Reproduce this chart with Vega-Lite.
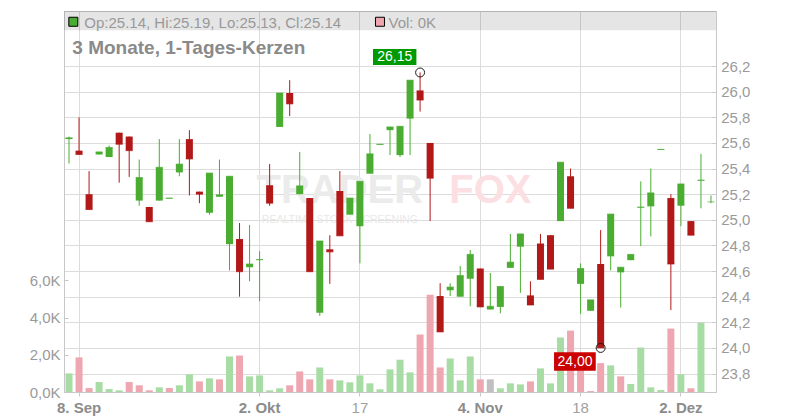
{
  "$schema": "https://vega.github.io/schema/vega-lite/v6.json",
  "width": 652,
  "height": 381,
  "autosize": {"type": "none"},
  "padding": {"left": 64, "top": 11, "right": 84, "bottom": 28},
  "background": "white",
  "config": {
    "view": {"stroke": "#c8c8c8", "strokeWidth": 1},
    "font": "Liberation Sans",
    "axis": {"domainColor": "#c8c8c8", "tickColor": "#c8c8c8", "gridColor": "#dcdcdc", "labelColor": "#9a9a9a", "labelFontSize": 15}
  },
  "datasets": {
    "ohlc": [
      {"d":"2025-09-05","o":25.63,"h":25.65,"l":25.44,"c":25.64,"v":1000,"vd":"u"},
      {"d":"2025-09-08","o":25.54,"h":25.80,"l":25.51,"c":25.51,"v":1860,"vd":"d"},
      {"d":"2025-09-09","o":25.20,"h":25.38,"l":25.08,"c":25.08,"v":210,"vd":"d"},
      {"d":"2025-09-10","o":25.51,"h":25.53,"l":25.51,"c":25.53,"v":535,"vd":"u"},
      {"d":"2025-09-11","o":25.49,"h":25.58,"l":25.49,"c":25.565,"v":160,"vd":"u"},
      {"d":"2025-09-12","o":25.68,"h":25.68,"l":25.29,"c":25.59,"v":90,"vd":"u"},
      {"d":"2025-09-15","o":25.65,"h":25.65,"l":25.335,"c":25.54,"v":535,"vd":"d"},
      {"d":"2025-09-16","o":25.15,"h":25.47,"l":25.11,"c":25.33,"v":360,"vd":"d"},
      {"d":"2025-09-17","o":25.10,"h":25.10,"l":24.985,"c":24.985,"v":90,"vd":"d"},
      {"d":"2025-09-18","o":25.15,"h":25.63,"l":25.15,"c":25.41,"v":250,"vd":"u"},
      {"d":"2025-09-19","o":25.165,"h":25.17,"l":25.165,"c":25.17,"v":215,"vd":"d"},
      {"d":"2025-09-22","o":25.37,"h":25.63,"l":25.34,"c":25.435,"v":360,"vd":"u"},
      {"d":"2025-09-23","o":25.63,"h":25.70,"l":25.19,"c":25.475,"v":950,"vd":"u"},
      {"d":"2025-09-24","o":25.22,"h":25.22,"l":25.13,"c":25.20,"v":570,"vd":"d"},
      {"d":"2025-09-25","o":25.055,"h":25.365,"l":25.04,"c":25.365,"v":735,"vd":"u"},
      {"d":"2025-09-26","o":25.18,"h":25.47,"l":25.18,"c":25.195,"v":680,"vd":"d"},
      {"d":"2025-09-29","o":24.81,"h":25.34,"l":24.605,"c":25.34,"v":1910,"vd":"u"},
      {"d":"2025-09-30","o":24.85,"h":24.975,"l":24.40,"c":24.595,"v":1960,"vd":"d"},
      {"d":"2025-10-01","o":24.63,"h":24.96,"l":24.52,"c":24.655,"v":840,"vd":"u"},
      {"d":"2025-10-02","o":24.685,"h":24.755,"l":24.365,"c":24.69,"v":890,"vd":"u"},
      {"d":"2025-10-06","o":25.27,"h":25.435,"l":25.11,"c":25.13,"v":90,"vd":"u"},
      {"d":"2025-10-07","o":25.725,"h":25.99,"l":25.725,"c":25.99,"v":200,"vd":"u"},
      {"d":"2025-10-08","o":25.99,"h":26.09,"l":25.81,"c":25.905,"v":360,"vd":"d"},
      {"d":"2025-10-09","o":25.20,"h":25.53,"l":25.20,"c":25.265,"v":1105,"vd":"d"},
      {"d":"2025-10-10","o":25.17,"h":25.17,"l":24.595,"c":24.595,"v":680,"vd":"d"},
      {"d":"2025-10-13","o":24.275,"h":24.835,"l":24.25,"c":24.835,"v":1320,"vd":"u"},
      {"d":"2025-10-14","o":24.77,"h":24.88,"l":24.50,"c":24.75,"v":680,"vd":"d"},
      {"d":"2025-10-15","o":25.225,"h":25.38,"l":24.875,"c":24.875,"v":625,"vd":"u"},
      {"d":"2025-10-16","o":25.04,"h":25.17,"l":25.04,"c":25.17,"v":520,"vd":"u"},
      {"d":"2025-10-17","o":24.95,"h":25.30,"l":24.66,"c":25.30,"v":890,"vd":"u"},
      {"d":"2025-10-20","o":25.36,"h":25.67,"l":25.36,"c":25.515,"v":465,"vd":"u"},
      {"d":"2025-10-21","o":25.585,"h":25.59,"l":25.585,"c":25.59,"v":145,"vd":"u"},
      {"d":"2025-10-22","o":25.70,"h":25.725,"l":25.505,"c":25.725,"v":1215,"vd":"u"},
      {"d":"2025-10-23","o":25.505,"h":25.73,"l":25.49,"c":25.73,"v":1735,"vd":"u"},
      {"d":"2025-10-24","o":25.79,"h":26.09,"l":25.505,"c":26.09,"v":1055,"vd":"u"},
      {"d":"2025-10-27","o":26.01,"h":26.15,"l":25.845,"c":25.935,"v":3090,"vd":"d"},
      {"d":"2025-10-28","o":25.60,"h":25.60,"l":24.99,"c":25.325,"v":5230,"vd":"d"},
      {"d":"2025-10-29","o":24.405,"h":24.505,"l":24.125,"c":24.125,"v":1320,"vd":"d"},
      {"d":"2025-10-30","o":24.45,"h":24.505,"l":24.405,"c":24.475,"v":1800,"vd":"u"},
      {"d":"2025-10-31","o":24.40,"h":24.64,"l":24.40,"c":24.565,"v":625,"vd":"u"},
      {"d":"2025-11-03","o":24.54,"h":24.765,"l":24.325,"c":24.73,"v":1910,"vd":"u"},
      {"d":"2025-11-04","o":24.62,"h":24.62,"l":24.32,"c":24.32,"v":680,"vd":"d"},
      {"d":"2025-11-05","o":24.30,"h":24.585,"l":24.30,"c":24.325,"v":680,"vd":"n"},
      {"d":"2025-11-06","o":24.32,"h":24.48,"l":24.27,"c":24.48,"v":200,"vd":"u"},
      {"d":"2025-11-07","o":24.625,"h":24.89,"l":24.625,"c":24.67,"v":465,"vd":"u"},
      {"d":"2025-11-10","o":24.79,"h":24.89,"l":24.43,"c":24.89,"v":410,"vd":"u"},
      {"d":"2025-11-11","o":24.41,"h":24.52,"l":24.335,"c":24.335,"v":570,"vd":"d"},
      {"d":"2025-11-12","o":24.815,"h":24.89,"l":24.535,"c":24.535,"v":1270,"vd":"u"},
      {"d":"2025-11-13","o":24.88,"h":24.88,"l":24.615,"c":24.615,"v":465,"vd":"u"},
      {"d":"2025-11-14","o":24.99,"h":25.45,"l":24.99,"c":25.45,"v":2930,"vd":"u"},
      {"d":"2025-11-17","o":25.34,"h":25.40,"l":25.09,"c":25.09,"v":3300,"vd":"d"},
      {"d":"2025-11-18","o":24.50,"h":24.66,"l":24.265,"c":24.62,"v":1500,"vd":"d"},
      {"d":"2025-11-19","o":24.29,"h":24.375,"l":24.29,"c":24.375,"v":50,"vd":"d"},
      {"d":"2025-11-20","o":24.655,"h":24.92,"l":24.00,"c":24.00,"v":1550,"vd":"d"},
      {"d":"2025-11-21","o":24.715,"h":25.045,"l":24.605,"c":25.045,"v":1430,"vd":"u"},
      {"d":"2025-11-24","o":24.59,"h":24.63,"l":24.315,"c":24.63,"v":840,"vd":"d"},
      {"d":"2025-11-25","o":24.685,"h":24.73,"l":24.685,"c":24.73,"v":430,"vd":"u"},
      {"d":"2025-11-26","o":25.095,"h":25.30,"l":24.795,"c":25.10,"v":2390,"vd":"u"},
      {"d":"2025-11-27","o":25.105,"h":25.40,"l":24.87,"c":25.21,"v":250,"vd":"u"},
      {"d":"2025-11-28","o":25.545,"h":25.55,"l":25.545,"c":25.55,"v":105,"vd":"u"},
      {"d":"2025-12-01","o":25.17,"h":25.20,"l":24.295,"c":24.655,"v":3410,"vd":"d"},
      {"d":"2025-12-02","o":25.11,"h":25.28,"l":24.95,"c":25.28,"v":950,"vd":"u"},
      {"d":"2025-12-03","o":24.99,"h":24.99,"l":24.88,"c":24.88,"v":200,"vd":"d"},
      {"d":"2025-12-04","o":25.305,"h":25.515,"l":25.09,"c":25.31,"v":3730,"vd":"u"},
      {"d":"2025-12-05","o":25.14,"h":25.19,"l":25.13,"c":25.14,"v":0,"vd":"d"}
    ],
    "ann": [
      {"d":"2025-10-27","p":26.15,"t":"26,15","k":"hi"},
      {"d":"2025-11-20","p":24.00,"t":"24,00","k":"lo"}
    ],
    "hdr": [
      {"d0":"2025-09-05","d1":"2025-10-21","d2":"2025-10-15","d3":"2025-11-05","info":"Op:25.14, Hi:25.19, Lo:25.13, Cl:25.14","vol":"Vol: 0K","title":"3 Monate, 1-Tages-Kerzen","wm1":"TRADER","wm2":"FOX","wm3":"REALTIME STOCK SCREENING"}
    ]
  },
  "layer": [
    {
      "data": {"name": "ohlc"},
      "mark": {"type": "bar", "width": 7},
      "encoding": {
        "x": {
          "field": "d", "type": "ordinal", "title": null,
          "scale": {"type": "band", "paddingInner": 0, "paddingOuter": 0},
          "axis": {
            "values": ["2025-09-08","2025-10-02","2025-10-17","2025-11-04","2025-11-18","2025-12-02"],
            "labelExpr": "datum.value == '2025-09-08' ? '8. Sep' : datum.value == '2025-10-02' ? '2. Okt' : datum.value == '2025-10-17' ? '17' : datum.value == '2025-11-04' ? '4. Nov' : datum.value == '2025-11-18' ? '18' : '2. Dez'",
            "bandPosition": 0.5,
            "grid": true,
            "gridColor": "#dcdcdc",
            "tickSize": 4,
            "labelAngle": 0,
            "labelPadding": 4,
            "labelFontSize": 15,
            "labelFontWeight": {"condition": {"test": "indexof(['2025-09-08','2025-10-02','2025-11-04','2025-12-02'], datum.value) >= 0", "value": "bold"}, "value": "normal"},
            "labelColor": {"condition": {"test": "indexof(['2025-09-08','2025-10-02','2025-11-04','2025-12-02'], datum.value) >= 0", "value": "#8c8c8c"}, "value": "#a0a0a0"}
          }
        },
        "y": {
          "field": "v", "type": "quantitative", "title": null,
          "scale": {"domain": [0, 20480], "nice": false},
          "axis": {
            "orient": "left",
            "values": [0, 2000, 4000, 6000],
            "tickCount": 20,
            "labelExpr": "replace(format(datum.value / 1000, '.1f'), '.', ',') + 'K'",
            "grid": false,
            "tickSize": -4,
            "labelPadding": 8,
            "labelFlush": false,
            "labelFontSize": 15,
            "labelColor": "#9a9a9a"
          }
        },
        "color": {
          "field": "vd", "type": "nominal", "legend": null,
          "scale": {"domain": ["u", "d", "n"], "range": ["#a8dca5", "#eea6b0", "#c0c0c0"]}
        }
      }
    },
    {
      "layer": [
        {
          "data": {"name": "hdr"},
          "mark": {"type": "text", "align": "center", "baseline": "alphabetic", "fontSize": 40, "fontWeight": "bold", "fill": "#ebebeb"},
          "encoding": {
            "x": {"field": "d2", "type": "ordinal", "title": null},
            "y": {"datum": 25.13, "type": "quantitative", "title": null},
            "text": {"field": "wm1"}
          }
        },
        {
          "data": {"name": "hdr"},
          "mark": {"type": "text", "align": "center", "baseline": "alphabetic", "fontSize": 40, "fontWeight": "bold", "fill": "#fcdfe2"},
          "encoding": {
            "x": {"field": "d3", "type": "ordinal", "title": null},
            "y": {"datum": 25.13, "type": "quantitative", "title": null},
            "text": {"field": "wm2"}
          }
        },
        {
          "data": {"name": "hdr"},
          "mark": {"type": "text", "align": "center", "baseline": "alphabetic", "fontSize": 10.5, "fill": "#e8e8e8"},
          "encoding": {
            "x": {"field": "d2", "type": "ordinal", "title": null},
            "y": {"datum": 24.973, "type": "quantitative", "title": null},
            "text": {"field": "wm3"}
          }
        },
        {
          "data": {"name": "hdr"},
          "mark": {"type": "rect", "fill": "#000000", "fillOpacity": 0.1},
          "encoding": {
            "y": {"datum": 26.63, "type": "quantitative", "title": null},
            "y2": {"datum": 26.48}
          }
        },
        {
          "data": {"name": "ohlc"},
          "mark": {"type": "rule", "strokeWidth": 1},
          "encoding": {
            "x": {"field": "d", "type": "ordinal", "title": null},
            "y": {
              "field": "l", "type": "quantitative", "title": null,
              "scale": {"domain": [23.656, 26.63], "nice": false, "zero": false},
              "axis": {
                "orient": "right",
                "values": [23.8, 24, 24.2, 24.4, 24.6, 24.8, 25, 25.2, 25.4, 25.6, 25.8, 26, 26.2],
                "tickCount": 30,
                "labelExpr": "replace(format(datum.value, '.1f'), '.', ',')",
                "grid": true,
                "gridColor": "#dcdcdc",
                "tickSize": -4,
                "labelPadding": 8.7,
                "labelFlush": false,
                "labelOverlap": false,
                "labelFontSize": 15,
                "labelColor": "#9a9a9a"
              }
            },
            "y2": {"field": "h"},
            "color": {"condition": {"test": "datum.c >= datum.o", "value": "#4aad32"}, "value": "#b21818"}
          }
        },
        {
          "data": {"name": "ohlc"},
          "mark": {"type": "bar", "width": 7},
          "encoding": {
            "x": {"field": "d", "type": "ordinal", "title": null},
            "y": {"field": "o", "type": "quantitative", "title": null},
            "y2": {"field": "c"},
            "color": {"condition": {"test": "datum.c >= datum.o", "value": "#4aad32"}, "value": "#b21818"}
          }
        },
        {
          "data": {"name": "ohlc"},
          "mark": {"type": "tick", "thickness": 1, "size": 7},
          "encoding": {
            "x": {"field": "d", "type": "ordinal", "title": null},
            "y": {"field": "c", "type": "quantitative", "title": null},
            "color": {"condition": {"test": "datum.c >= datum.o", "value": "#4aad32"}, "value": "#b21818"}
          }
        },
        {
          "data": {"name": "ann"},
          "transform": [{"filter": "datum.k == 'hi'"}],
          "layer": [
            {
              "mark": {"type": "point", "shape": "M-4.71,-2.35H-0.37V-0.75H-4.71Z", "size": 400, "filled": true, "fill": "#009900", "opacity": 1, "strokeWidth": 0},
              "encoding": {
                "x": {"field": "d", "type": "ordinal", "title": null},
                "y": {"field": "p", "type": "quantitative", "title": null}
              }
            },
            {
              "mark": {"type": "text", "dx": -25.4, "dy": -15.5, "fill": "#ffffff", "fontSize": 14, "align": "center", "baseline": "middle"},
              "encoding": {
                "x": {"field": "d", "type": "ordinal", "title": null},
                "y": {"field": "p", "type": "quantitative", "title": null},
                "text": {"field": "t"}
              }
            }
          ]
        },
        {
          "data": {"name": "ann"},
          "transform": [{"filter": "datum.k == 'lo'"}],
          "layer": [
            {
              "mark": {"type": "point", "shape": "M-4.66,0.44H-0.49V2.28H-4.66Z", "size": 400, "filled": true, "fill": "#cc0000", "opacity": 1, "strokeWidth": 0},
              "encoding": {
                "x": {"field": "d", "type": "ordinal", "title": null},
                "y": {"field": "p", "type": "quantitative", "title": null}
              }
            },
            {
              "mark": {"type": "text", "dx": -25.7, "dy": 13.6, "fill": "#ffffff", "fontSize": 14, "align": "center", "baseline": "middle"},
              "encoding": {
                "x": {"field": "d", "type": "ordinal", "title": null},
                "y": {"field": "p", "type": "quantitative", "title": null},
                "text": {"field": "t"}
              }
            }
          ]
        },
        {
          "data": {"name": "ann"},
          "mark": {"type": "point", "shape": "circle", "size": 80, "filled": false, "stroke": "#1a1a1a", "strokeWidth": 1, "opacity": 1},
          "encoding": {
            "x": {"field": "d", "type": "ordinal", "title": null},
            "y": {"field": "p", "type": "quantitative", "title": null}
          }
        },
        {
          "data": {"name": "hdr"},
          "mark": {"type": "point", "shape": "square", "size": 81, "filled": true, "fill": "#4aad32", "stroke": "#000000", "strokeWidth": 1, "opacity": 1, "xOffset": 4.3},
          "encoding": {
            "x": {"field": "d0", "type": "ordinal", "title": null},
            "y": {"datum": 26.546, "type": "quantitative", "title": null}
          }
        },
        {
          "data": {"name": "hdr"},
          "mark": {"type": "point", "shape": "square", "size": 81, "filled": true, "fill": "#eea6b0", "stroke": "#000000", "strokeWidth": 1, "opacity": 1},
          "encoding": {
            "x": {"field": "d1", "type": "ordinal", "title": null},
            "y": {"datum": 26.546, "type": "quantitative", "title": null}
          }
        },
        {
          "data": {"name": "hdr"},
          "mark": {"type": "text", "align": "left", "baseline": "alphabetic", "dx": 15.3, "fontSize": 15, "fill": "#999999"},
          "encoding": {
            "x": {"field": "d0", "type": "ordinal", "title": null},
            "y": {"datum": 26.5, "type": "quantitative", "title": null},
            "text": {"field": "info"}
          }
        },
        {
          "data": {"name": "hdr"},
          "mark": {"type": "text", "align": "left", "baseline": "alphabetic", "dx": 8.5, "fontSize": 15, "fill": "#999999"},
          "encoding": {
            "x": {"field": "d1", "type": "ordinal", "title": null},
            "y": {"datum": 26.5, "type": "quantitative", "title": null},
            "text": {"field": "vol"}
          }
        },
        {
          "data": {"name": "hdr"},
          "mark": {"type": "text", "align": "left", "baseline": "alphabetic", "dx": 3.3, "fontSize": 19, "fontWeight": "bold", "fill": "#8a8a8a"},
          "encoding": {
            "x": {"field": "d0", "type": "ordinal", "title": null},
            "y": {"datum": 26.294, "type": "quantitative", "title": null},
            "text": {"field": "title"}
          }
        }
      ]
    }
  ],
  "resolve": {"scale": {"y": "independent"}, "axis": {"y": "independent"}}
}
